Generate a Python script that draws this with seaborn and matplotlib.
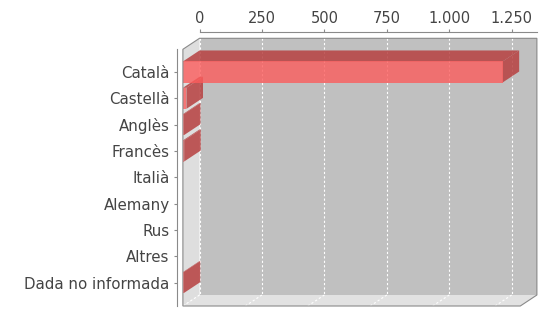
import matplotlib
matplotlib.use("Agg")
import numpy as np
import pandas as pd
import matplotlib.pyplot as plt
import seaborn as sns
from matplotlib.patches import Polygon

# data
categories = ["Català", "Castellà", "Anglès", "Francès", "Italià",
              "Alemany", "Rus", "Altres", "Dada no informada"]
values = [1280, 14, 4, 5, 0, 0, 0, 0, 3]
x_ticks = [0, 250, 500, 750, 1000, 1250]
x_ticklabels = ["0", "250", "500", "750", "1.000", "1.250"]

sns.set_style("white")
plt.rcParams["font.family"] = ["DejaVu Sans"]

W, H = 542, 309
fig = plt.figure(figsize=(W / 100, H / 100), dpi=100)

# ── geometry (pixels) ─────────────────────────────────────────────────
front_left, front_top, front_right, front_bottom = 182.9, 49.3, 520.3, 306.0
DXP, DYP = 16.6, 11.0          # 3D depth offset
y0px, step = 72.0, 26.33       # first category centre, category spacing
XMAX = 1351

ax = fig.add_axes([front_left / W, 1 - front_bottom / H,
                   (front_right - front_left) / W, (front_bottom - front_top) / H])
ax.patch.set_visible(False)

front_col = "#fc5c5c"
dark_col = "#b74040"

df = pd.DataFrame({"idioma": categories, "n": values})
sns.barplot(data=df, x="n", y="idioma", orient="h", color=front_col,
            saturation=1, width=0.8, alpha=0.8, ax=ax, zorder=4, linewidth=0)

ax.set_xlim(0, XMAX)
ytop = (front_top - y0px) / step
ybot = (front_bottom - y0px) / step
ax.set_ylim(ybot, ytop)

DX = DXP * XMAX / (front_right - front_left)
DY = DYP / step

# walls
back = Polygon([(DX, ytop - DY), (XMAX + DX, ytop - DY), (XMAX + DX, ybot - DY), (DX, ybot - DY)],
               closed=True, facecolor="#c0c0c0", edgecolor="none", zorder=0, clip_on=False)
left = Polygon([(0, ytop), (DX, ytop - DY), (DX, ybot - DY), (0, ybot)],
               closed=True, facecolor="#dedede", edgecolor="none", zorder=0.5, clip_on=False)
floor = Polygon([(0, ybot), (DX, ybot - DY), (XMAX + DX, ybot - DY), (XMAX, ybot)],
                closed=True, facecolor="#e2e2e2", edgecolor="none", zorder=0.5, clip_on=False)
for p in (back, left, floor):
    ax.add_patch(p)

# gridlines on back wall and floor
for t in x_ticks:
    ax.plot([t + DX, t + DX], [ytop - DY, ybot - DY], color="white", lw=0.8,
            ls=(0, (2, 2)), zorder=1, clip_on=False)
    ax.plot([t, t + DX], [ybot, ybot - DY], color="white", lw=0.8,
            ls=(0, (2, 2)), zorder=1, clip_on=False)

# outline
outline = Polygon([(0, ybot), (0, ytop), (DX, ytop - DY), (XMAX + DX, ytop - DY),
                   (XMAX + DX, ybot - DY), (XMAX, ybot)],
                  closed=True, facecolor="none", edgecolor="#8a8a8a", lw=0.8,
                  zorder=6, clip_on=False)
ax.add_patch(outline)

# 3D faces of the bars (zero bars are not drawn)
bars = [p for p in ax.patches if p.get_facecolor()[0] > 0.9 and p.get_zorder() == 4]
for bar in bars:
    v = bar.get_width()
    if v <= 0:
        continue
    bar.set_clip_on(False)
    x0 = bar.get_x()
    yt = bar.get_y()
    yb = yt + bar.get_height()
    top = Polygon([(x0, yt), (x0 + v, yt), (x0 + v + DX, yt - DY), (x0 + DX, yt - DY)],
                  closed=True, facecolor=dark_col, edgecolor="none", alpha=0.85,
                  zorder=3.5, clip_on=False)
    side = Polygon([(x0 + v, yt), (x0 + v + DX, yt - DY), (x0 + v + DX, yb - DY), (x0 + v, yb)],
                   closed=True, facecolor=dark_col, edgecolor="none", alpha=0.85,
                   zorder=3.6, clip_on=False)
    ax.add_patch(top)
    ax.add_patch(side)

# category axis
for s in ["top", "right", "bottom"]:
    ax.spines[s].set_visible(False)
ax.spines["left"].set_position(("outward", 4.6))
ax.spines["left"].set_color("#8a8a8a")
ax.spines["left"].set_linewidth(0.8)
ax.set_xticks([])
ax.set_yticks(range(len(categories)))
ax.set_yticklabels(categories)
ax.tick_params(axis="y", length=2.5, width=0.8, color="#8a8a8a", pad=2.5,
               labelsize=10.8, labelcolor="#444444", left=True)
ax.set_xlabel("")
ax.set_ylabel("")

# value axis on top, aligned with the back wall
ax_top = fig.add_axes([(front_left + DXP) / W, 1 - (front_bottom - DYP) / H,
                       (front_right - front_left) / W, (front_bottom - front_top) / H])
ax_top.patch.set_visible(False)
ax_top.set_xlim(0, XMAX)
ax_top.set_yticks([])
for s in ["left", "right", "bottom"]:
    ax_top.spines[s].set_visible(False)
ax_top.spines["top"].set_position(("outward", 4.3))
ax_top.spines["top"].set_color("#8a8a8a")
ax_top.spines["top"].set_linewidth(0.8)
ax_top.xaxis.set_ticks_position("top")
ax_top.set_xticks(x_ticks)
ax_top.set_xticklabels(x_ticklabels)
ax_top.tick_params(axis="x", length=2.5, width=0.8, color="#8a8a8a", pad=2,
                   labelsize=10.5, labelcolor="#444444", top=True, bottom=False)

fig.savefig("out.png", dpi=100)
